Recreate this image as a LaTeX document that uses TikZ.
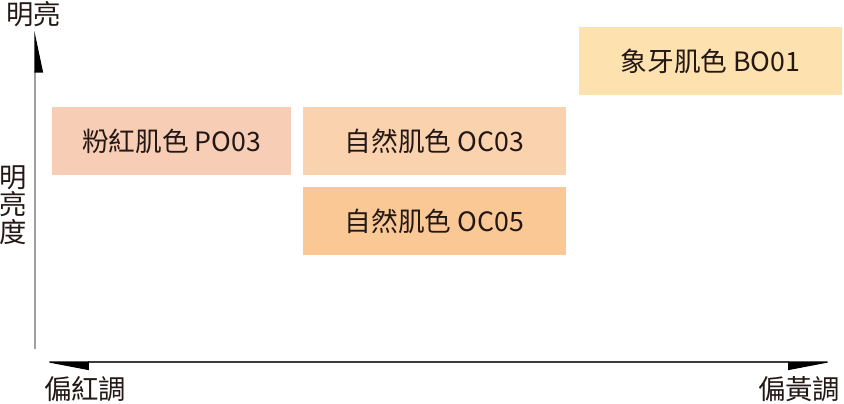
\documentclass[tikz,border=0pt]{standalone}
\usepackage{fontspec}
\setmainfont{Noto Sans CJK TC}
\usetikzlibrary{arrows.meta}
\definecolor{ink}{HTML}{231815}
\definecolor{axisgray}{HTML}{9FA0A0}
\definecolor{axisdark}{HTML}{3E3A39}
\definecolor{pinkpo}{HTML}{F8CDB6}
\definecolor{natlight}{HTML}{FAD3AE}
\definecolor{natdeep}{HTML}{F9C894}
\definecolor{ivory}{HTML}{FDE2AF}
\tikzset{
  swatch/.style={inner sep=0pt, text=ink, minimum width=197.25pt, minimum height=51pt,
    font=\fontsize{20pt}{22pt}\selectfont},
  axislab/.style={inner sep=0pt, text=ink, font=\fontsize{20.5pt}{20.5pt}\selectfont},
  yaxis/.style={draw=axisgray, line width=0.9pt,
    -{Triangle[harpoon,swap,length=29pt,width=12pt,color=black]}},
  xaxis/.style={draw=axisdark, line width=0.9pt,
    {Triangle[harpoon,length=32pt,width=12pt,color=black]}-{Triangle[harpoon,swap,length=32pt,width=12pt,color=black]}},
}
\begin{document}
\begin{tikzpicture}[x=0.75pt,y=-0.75pt]
  \useasboundingbox (0,0) rectangle (844,404);

  % axes
  \coordinate (ybot) at (35,349);
  \coordinate (ytop) at (35,31);
  \coordinate (xleft) at (43,362);
  \coordinate (xright) at (834,362);
  \draw[yaxis] (ybot) -- (ytop);
  \draw[xaxis] (xleft) -- (xright);

  % axis labels
  \node[axislab] (bright) at (34,14) {明亮};
  \node[axislab, align=center] (lum) at (13,205) {明\\亮\\度};
  \node[axislab] (redish) at (85,389) {偏紅調};
  \node[axislab] (yellowish) at (799,389) {偏黃調};

  % colour swatches
  \node[swatch, fill=pinkpo, minimum width=179.25pt] (po03) at (171.5,141) {粉紅肌色 PO03};
  \node[swatch, fill=natlight] (oc03) at (434.5,141) {自然肌色 OC03};
  \node[swatch, fill=natdeep] (oc05) at (434.5,221) {自然肌色 OC05};
  \node[swatch, fill=ivory] (bo01) at (710.5,61) {象牙肌色 BO01};
\end{tikzpicture}
\end{document}
